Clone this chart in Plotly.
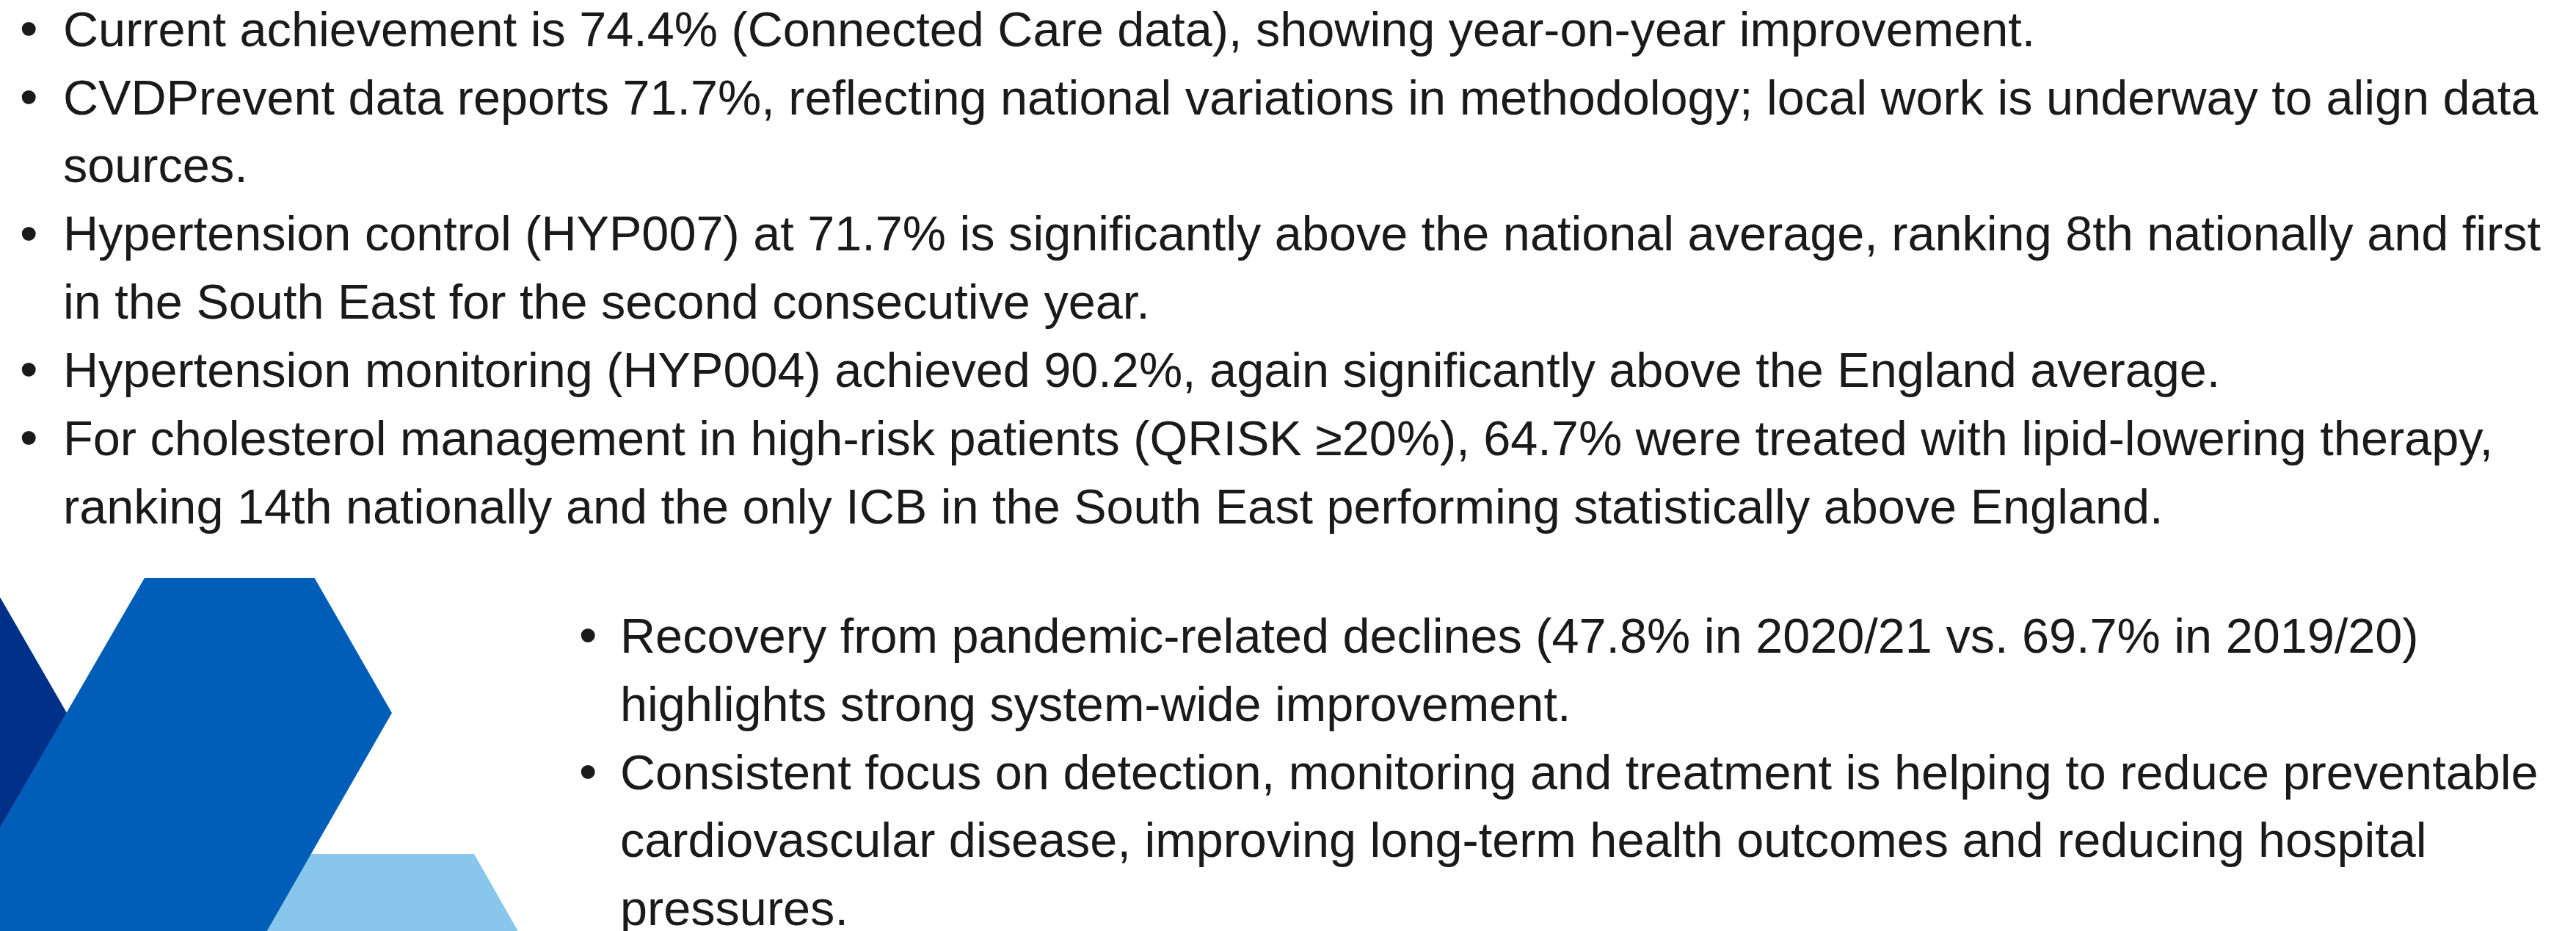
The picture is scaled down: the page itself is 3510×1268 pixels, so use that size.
import plotly.graph_objects as go

# ---- content ----
block1_bullets = [
    ["Current achievement is 74.4% (Connected Care data), showing year-on-year improvement."],
    ["CVDPrevent data reports 71.7%, reflecting national variations in methodology; local work is underway to align data",
     "sources."],
    ["Hypertension control (HYP007) at 71.7% is significantly above the national average, ranking 8th nationally and first",
     "in the South East for the second consecutive year."],
    ["Hypertension monitoring (HYP004) achieved 90.2%, again significantly above the England average."],
    ["For cholesterol management in high-risk patients (QRISK \u226520%), 64.7% were treated with lipid-lowering therapy,",
     "ranking 14th nationally and the only ICB in the South East performing statistically above England."],
]
block2_bullets = [
    ["Recovery from pandemic-related declines (47.8% in 2020/21 vs. 69.7% in 2019/20)",
     "highlights strong system-wide improvement."],
    ["Consistent focus on detection, monitoring and treatment is helping to reduce preventable",
     "cardiovascular disease, improving long-term health outcomes and reducing hospital",
     "pressures."],
]

# ---- styling ----
W, H = 3510, 1268
FONT = "Liberation Sans"
FS = 66.6          # body text size (px)
BFS = 70           # bullet glyph size (px)
BULLET_RISE = 23.4  # bullet centre above baseline (px)
TXT = "#1a1a1a"
NAVY, BLUE, LIGHT = "#003087", "#005EB8", "#89C6EC"

blocks = [
    dict(items=block1_bullets, bx=39.5, tx=84, base0=62.7, step=92.9),
    dict(items=block2_bullets, bx=801, tx=843, base0=889.3, step=92.7),
]

fig = go.Figure()
fig.add_trace(go.Scatter(x=[0, W], y=[0, H], mode="markers",
                         marker=dict(opacity=0), hoverinfo="skip", showlegend=False))

# decorative shapes (bottom-left)
shapes = [
    dict(color=LIGHT, path="M 400 1163 L 646 1163 L 781 1400 L 200 1400 Z"),
    dict(color=NAVY, path="M -300 600 L -123 600 L 91 971 L -158 1400 L -300 1400 Z"),
    dict(color=BLUE, path="M 197 787 L 428.5 787 L 534 971 L 288 1400 L -158 1400 Z"),
]
for s in shapes:
    fig.add_shape(type="path", path=s["path"], xref="x", yref="y",
                  fillcolor=s["color"], line=dict(width=0), layer="below")

ASC, DESC = 0.905, 0.212          # Liberation Sans vertical metrics
MID = (ASC - DESC) / 2            # text-box centre above baseline (em)

annotations = []
for b in blocks:
    k = 0
    for item in b["items"]:
        for j, line in enumerate(item):
            base = b["base0"] + b["step"] * k
            if j == 0:
                bbase = base - BULLET_RISE + 0.34 * BFS
                annotations.append(dict(x=b["bx"], y=bbase - MID * BFS, xref="x", yref="y",
                                        text="\u2022", showarrow=False,
                                        xanchor="center", yanchor="middle",
                                        font=dict(family=FONT, size=BFS, color=TXT)))
            annotations.append(dict(x=b["tx"], y=base - MID * FS, xref="x", yref="y",
                                    text=line, showarrow=False,
                                    xanchor="left", yanchor="middle",
                                    font=dict(family=FONT, size=FS, color=TXT)))
            k += 1

fig.update_layout(
    width=W, height=H,
    margin=dict(l=0, r=0, t=0, b=0),
    paper_bgcolor="white", plot_bgcolor="white",
    xaxis=dict(range=[0, W], visible=False, fixedrange=True),
    yaxis=dict(range=[H, 0], visible=False, fixedrange=True),
    annotations=annotations,
    showlegend=False,
)

fig.write_html("out.html", config={"displayModeBar": False},
               post_script="document.body.style.margin='0px';document.body.style.overflow='hidden';")
